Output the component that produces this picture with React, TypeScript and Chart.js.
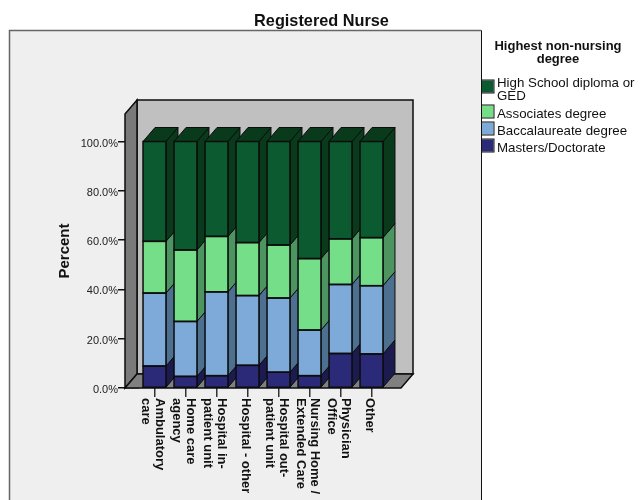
import React, { useEffect, useRef } from "react";
import { Chart, registerables } from "chart.js";

Chart.register(...registerables);

const categories: string[][] = [
  ["Ambulatory", "care"],
  ["Home care", "agency"],
  ["Hospital in-", "patient unit"],
  ["Hospital - other"],
  ["Hospital out-", "patient unit"],
  ["Nursing Home /", "Extended Care"],
  ["Physician", "Office"],
  ["Other"],
];

const masters = [8.9, 4.7, 5.0, 9.2, 6.4, 5.0, 14.0, 13.8];
const baccalaureate = [29.6, 22.3, 34.0, 28.3, 30.1, 18.5, 28.0, 27.7];
const associates = [21.0, 29.0, 22.5, 21.5, 21.5, 29.0, 18.5, 19.5];
const highSchool = [40.5, 44.0, 38.5, 41.0, 42.0, 47.5, 39.5, 39.0];

const yTicks = [0, 20, 40, 60, 80, 100];

const chartTitle = "Registered Nurse";
const yTitle = "Percent";
const legendTitle = ["Highest non-nursing", "degree"];
const legendEntries = [
  { lines: ["High School diploma or", "GED"], color: "#0B5A30" },
  { lines: ["Associates degree"], color: "#74DF88" },
  { lines: ["Baccalaureate degree"], color: "#7DAAD8" },
  { lines: ["Masters/Doctorate"], color: "#2A2A78" },
];

const sideColors = ["#1B1B50", "#4E7090", "#4C9560", "#0A3A1C"];
const DX = 12;
const DY = 14;
const OUTLINE = "#0c0c0c";

function poly(ctx: CanvasRenderingContext2D, pts: number[][], fill: string, lw = 1.5) {
  ctx.beginPath();
  pts.forEach(([x, y], i) => (i ? ctx.lineTo(x, y) : ctx.moveTo(x, y)));
  ctx.closePath();
  ctx.fillStyle = fill;
  ctx.fill();
  ctx.lineWidth = lw;
  ctx.strokeStyle = OUTLINE;
  ctx.stroke();
}

// Panel behind the plot, plus the walls, floor, depth faces and all text.
const framePlugin = {
  id: "frame",
  beforeDraw(chart: any) {
    const { ctx } = chart;
    ctx.save();
    ctx.fillStyle = "#EFEFEF";
    ctx.fillRect(9.5, 30.5, 472, 480);
    ctx.strokeStyle = "#666";
    ctx.lineWidth = 1.5;
    ctx.beginPath();
    ctx.moveTo(9.5, 510);
    ctx.lineTo(9.5, 30.5);
    ctx.lineTo(481.5, 30.5);
    ctx.stroke();
    ctx.strokeStyle = "#111";
    ctx.lineWidth = 1;
    ctx.beginPath();
    ctx.moveTo(481.5, 30.5);
    ctx.lineTo(481.5, 510);
    ctx.stroke();

    ctx.fillStyle = "#111";
    ctx.font = "bold 16.3px 'Liberation Sans'";
    ctx.textAlign = "center";
    ctx.textBaseline = "middle";
    ctx.fillText(chartTitle, 321.5, 22);
    ctx.restore();
  },
  beforeDatasetsDraw(chart: any) {
    const { ctx, chartArea, scales } = chart;
    const left = chartArea.left - 14;
    const right = chartArea.right + 14;
    const bottom = scales.y.getPixelForValue(0);
    const wallTop = scales.y.getPixelForValue(100) - 27.5 - DY;
    ctx.save();
    ctx.lineJoin = "miter";
    poly(ctx, [[left + DX, wallTop], [right + DX, wallTop], [right + DX, bottom - DY], [left + DX, bottom - DY]], "#C0C0C0");
    poly(ctx, [[left, wallTop + DY], [left + DX, wallTop], [left + DX, bottom - DY], [left, bottom]], "#7A7A7A");
    poly(ctx, [[left, bottom], [left + DX, bottom - DY], [right + DX, bottom - DY], [right, bottom]], "#808080");

    const count = chart.data.labels.length;
    for (let i = 0; i < count; i++) {
      chart.data.datasets.forEach((_: any, d: number) => {
        const bar = chart.getDatasetMeta(d).data[i];
        const r = bar.x + bar.width / 2;
        const l = bar.x - bar.width / 2;
        poly(ctx, [[r, bar.base], [r + DX, bar.base - DY], [r + DX, bar.y - DY], [r, bar.y]], sideColors[d], 1);
        if (d === chart.data.datasets.length - 1) {
          poly(ctx, [[l, bar.y], [l + DX, bar.y - DY], [r + DX, bar.y - DY], [r, bar.y]], sideColors[d], 1);
        }
      });
    }
    ctx.restore();
  },
  // Even outlines on each bar segment, so seams stay dark at fractional positions.
  afterDatasetsDraw(chart: any) {
    const { ctx } = chart;
    ctx.save();
    ctx.strokeStyle = OUTLINE;
    ctx.lineWidth = 1.5;
    chart.data.datasets.forEach((_: any, d: number) => {
      chart.getDatasetMeta(d).data.forEach((bar: any) => {
        ctx.strokeRect(bar.x - bar.width / 2, bar.y, bar.width, bar.base - bar.y);
      });
    });
    ctx.restore();
  },
  afterDraw(chart: any) {
    const { ctx, scales } = chart;
    ctx.save();

    // Value labels on the left of the wall.
    ctx.fillStyle = "#222";
    ctx.font = "11px 'Liberation Sans'";
    ctx.textAlign = "right";
    ctx.textBaseline = "middle";
    yTicks.forEach((v) => ctx.fillText(`${v.toFixed(1)}%`, 118, scales.y.getPixelForValue(v) + 2));

    // Category labels read top to bottom, first line on the right.
    ctx.fillStyle = "#111";
    ctx.font = "bold 13px 'Liberation Sans'";
    ctx.textAlign = "left";
    chart.data.labels.forEach((lines: string[], i: number) => {
      const x = scales.x.getPixelForTick(i);
      lines.forEach((line, n) => {
        const offset = ((lines.length - 1) / 2 - n) * 13.5;
        ctx.save();
        ctx.translate(x + offset - 2, 398);
        ctx.rotate(Math.PI / 2);
        ctx.fillText(line, 0, 0);
        ctx.restore();
      });
    });

    ctx.save();
    ctx.translate(64.5, 251);
    ctx.rotate(-Math.PI / 2);
    ctx.font = "bold 15px 'Liberation Sans'";
    ctx.textAlign = "center";
    ctx.fillText(yTitle, 0, 0);
    ctx.restore();

    // Legend
    ctx.font = "bold 13px 'Liberation Sans'";
    ctx.textAlign = "center";
    legendTitle.forEach((t, i) => ctx.fillText(t, 558, 46 + i * 13.5));

    ctx.font = "13.3px 'Liberation Sans'";
    ctx.textAlign = "left";
    let y = 80;
    legendEntries.forEach((entry) => {
      const wrapped = entry.lines.length > 1;
      ctx.fillStyle = entry.color;
      ctx.fillRect(482, y + 0.5, 11.5, 12);
      ctx.strokeStyle = "#111";
      ctx.lineWidth = 1;
      ctx.strokeRect(481.5, y, 12.5, 13);
      ctx.fillStyle = "#111";
      entry.lines.forEach((line, n) => ctx.fillText(line, 497, y + (wrapped ? 3 : 9.5) + n * 13.5));
      y += wrapped ? 25 : 17;
    });
    ctx.restore();
  },
};

const series = [
  { label: "Masters/Doctorate", data: masters, color: "#2A2A78" },
  { label: "Baccalaureate degree", data: baccalaureate, color: "#7DAAD8" },
  { label: "Associates degree", data: associates, color: "#74DF88" },
  { label: "High School diploma or GED", data: highSchool, color: "#0B5A30" },
];

export default function App() {
  const ref = useRef<HTMLCanvasElement>(null);
  useEffect(() => {
    const chart = new Chart(ref.current!, {
      type: "bar",
      data: {
        labels: categories as any,
        datasets: series.map((s) => ({
          label: s.label,
          data: s.data,
          backgroundColor: s.color,
          borderWidth: 0,
          borderSkipped: false,
          barPercentage: 0.74,
          categoryPercentage: 1,
        })),
      },
      plugins: [framePlugin],
      options: {
        animation: false,
        responsive: false,
        layout: { padding: { left: 0, top: 141.5, right: 255, bottom: 0 } },
        plugins: { legend: { display: false }, title: { display: false }, tooltip: { enabled: false } },
        scales: {
          x: {
            stacked: true,
            offset: true,
            afterFit: (s: any) => { s.height = 112; },
            grid: { display: true, offset: false, drawOnChartArea: false, drawTicks: true, tickLength: 9, color: "#333", lineWidth: 1.5 },
            border: { display: false },
            ticks: { display: true, callback: () => "", maxRotation: 0, padding: 0 },
          },
          y: {
            stacked: true,
            min: 0,
            max: 100,
            afterFit: (s: any) => { s.width = 139; },
            afterBuildTicks: (s: any) => { s.ticks = yTicks.map((value) => ({ value })); },
            grid: { display: true, drawOnChartArea: false, drawTicks: true, tickLength: 21, color: "#111", lineWidth: 1.5 },
            border: { display: false },
            ticks: { display: false },
          },
        },
      },
    });
    return () => chart.destroy();
  }, []);
  return (
    <canvas
      ref={ref}
      width={642}
      height={500}
      style={{ position: "absolute", left: 0, top: 0, width: 642, height: 500 }}
    />
  );
}
